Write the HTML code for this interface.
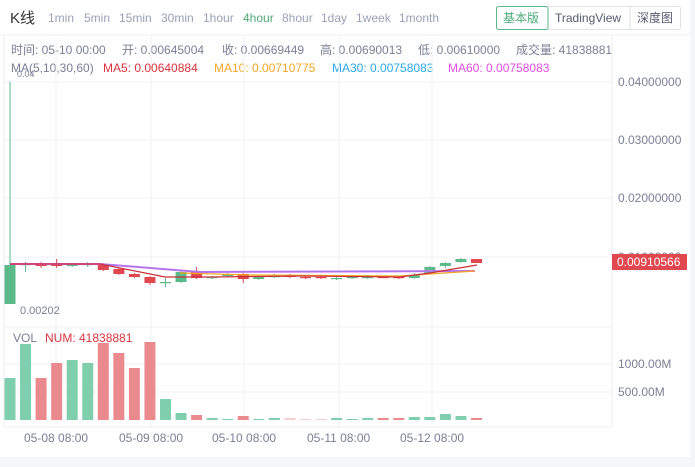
<!DOCTYPE html>
<html><head><meta charset="utf-8"><style>
body{margin:0;width:695px;height:467px;background:#f4f6fa;overflow:hidden;font-family:"Liberation Sans","Noto Sans CJK SC",sans-serif}
svg{position:absolute;left:0;top:0}
</style></head><body>
<svg id="s" width="695" height="467" xmlns="http://www.w3.org/2000/svg" font-family="Liberation Sans, Noto Sans CJK SC, sans-serif">
<rect x="0" y="0" width="690" height="457" fill="#fff"/>
<line x1="0" y1="35" x2="690" y2="35" stroke="#eceef3"/>
<text x="10" y="23" font-size="15" fill="#333">K线</text>
<g font-size="12" fill="#9aa0b8">
<text x="48" y="22">1min</text><text x="84" y="22">5min</text><text x="119" y="22">15min</text><text x="161" y="22">30min</text><text x="203" y="22">1hour</text><text x="243" y="22" fill="#4daa7a">4hour</text><text x="282" y="22">8hour</text><text x="321" y="22">1day</text><text x="356" y="22">1week</text><text x="399" y="22">1month</text>
</g>
<rect x="496.5" y="6.5" width="184" height="23" rx="2" fill="#fff" stroke="#dfe2ea"/>
<rect x="496.5" y="6.5" width="51.5" height="23" rx="2" fill="none" stroke="#5cb98a"/>
<line x1="630" y1="7" x2="630" y2="29" stroke="#dfe2ea"/>
<text x="503" y="22" font-size="12" fill="#4daa7a">基本版</text>
<text x="555" y="22" font-size="12" fill="#555a70">TradingView</text>
<text x="637" y="22" font-size="12" fill="#555a70">深度图</text>
<g font-size="12" fill="#7a7f95">
<text x="11" y="54">时间: 05-10 00:00</text><text x="122" y="54">开: 0.00645004</text><text x="222" y="54">收: 0.00669449</text><text x="320" y="54">高: 0.00690013</text><text x="418" y="54">低: 0.00610000</text><text x="516" y="54">成交量: 41838881</text>
<text x="11" y="72">MA(5,10,30,60)</text>
<text x="103" y="72" fill="#d9343e">MA5: 0.00640884</text>
<text x="214" y="72" fill="#f5a623">MA10: 0.00710775</text>
<text x="332" y="72" fill="#29a8e8">MA30: 0.00758083</text>
<text x="448" y="72" fill="#e24be6">MA60: 0.00758083</text>
</g>
<g id="grid" stroke="#f1f2f5"></g>
<line x1="612" y1="36" x2="612" y2="427" stroke="#eceef3"/>
<line x1="4" y1="427" x2="612" y2="427" stroke="#eceef3"/>
<line x1="4" y1="36" x2="4" y2="427" stroke="#eceef3"/>
<g font-size="12" fill="#7a7f95">
<text x="618" y="86">0.04000000</text><text x="618" y="144">0.03000000</text><text x="618" y="202">0.02000000</text><text x="618" y="261">0.01000000</text>
<text x="618" y="368">1000.00M</text><text x="618" y="396">500.00M</text>
<text x="24" y="442">05-08 08:00</text><text x="119" y="442">05-09 08:00</text><text x="212" y="442">05-10 08:00</text><text x="307" y="442">05-11 08:00</text><text x="400" y="442">05-12 08:00</text>
<text x="13" y="342">VOL</text><text x="45" y="342" fill="#d9343e">NUM: 41838881</text>
<text x="20" y="314" font-size="11">0.00202</text>
<text x="17" y="77" font-size="9">0.04</text>
</g>
<g id="c"></g>
<rect x="612" y="254" width="75" height="16" fill="#e0474f"/>
<text x="617" y="266" font-size="12" fill="#fff">0.00910566</text>
</svg>
<script>
var g=document.getElementById('grid'),c=document.getElementById('c'),h='';
[82,140,198,257,327,364,392].forEach(function(y){h+='<line x1="4" y1="'+y+'" x2="612" y2="'+y+'"/>';});
[56,151,244,339,432].forEach(function(x){h+='<line x1="'+x+'" y1="36" x2="'+x+'" y2="427"/>';});
g.innerHTML=h;
var G='#5bb98a',R='#e0474f';
// [open,close,high,low,green]
var K=[[304,265,82,304,1],[264,264,262,272,1],[263,266,262,268,0],[263,266,259,268,0],[264,266,263,267,1],[264,264,262,267,1],[265,270,263,271,0],[269,274,268,275,0],[274,277,273,278,0],[277,283,276,285,0],[282,282,278,287,1],[282,272,271,283,1],[272,278,267,279,0],[277,277,276,279,1],[276,274,273,277,1],[274,279,273,283,0],[279,277,276,280,1],[277,276,274,278,1],[275,277,274,278,0],[277,277,275,279,0],[277,278,276,279,0],[279,278,277,280,1],[278,277,276,279,1],[277,277,275,279,1],[277,277,276,278,0],[277,278,276,279,0],[278,275,273,279,1],[273,267,266,274,1],[266,263,262,268,1],[262,259,258,263,1],[259,263,259,263,0]];
var V=[[378,1],[344,1],[378,0],[363,0],[360,1],[363,1],[343,0],[353,0],[368,0],[342,0],[399,1],[413,1],[415,0],[418,1],[419,1],[416,0],[419,1],[418,1],[418,0],[419,0],[419,0],[418,1],[419,1],[418,1],[418,0],[418,0],[417,1],[417,1],[414,1],[416,1],[418,0]];
var s='';
K.forEach(function(k,i){var x=10+15.55*i,col=k[4]?G:R,t=Math.min(k[0],k[1]),b=Math.max(k[0],k[1]);
s+='<line x1="'+x+'" y1="'+k[2]+'" x2="'+x+'" y2="'+k[3]+'" stroke="'+col+'"/>';
s+='<rect x="'+(x-5.5)+'" y="'+t+'" width="11" height="'+Math.max(b-t,1.2)+'" fill="'+col+'"/>';});
V.forEach(function(v,i){var x=10+15.55*i,col=v[1]?'#7fcfae':'#ea8a8f';if(i>=18&&i<=20)col='#f5cfd2';
s+='<rect x="'+(x-5.5)+'" y="'+v[0]+'" width="11" height="'+(420-v[0])+'" fill="'+col+'"/>';});
function pl(p,col,w){return '<polyline fill="none" stroke="'+col+'" stroke-width="'+w+'" points="'+p+'"/>';}
s+=pl('10,264 100,264 200,272 475,271','#d76af0',2);
s+=pl('10,264 100,264 200,272 475,271','#9a7ee8',1);
s+=pl('180,273 250,275 400,276 475,271','#f5a623',1.2);
s+=pl('10,264 100,264 165,277 210,277 300,276 400,277 430,273 477,265','#c8303a',1.2);
c.innerHTML=s;
</script>
</body></html>
